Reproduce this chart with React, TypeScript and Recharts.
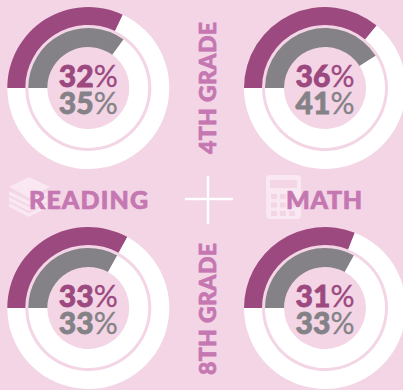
import React from "react";
import { PieChart, Pie, Cell } from "recharts";

const W = 403;
const H = 390;
const grades = ["4TH GRADE", "8TH GRADE"];
const subjects = ["READING", "MATH"];
const stateValues = [32, 36, 33, 31];
const nationValues = [35, 41, 33, 33];
const centersX = [88.3, 325, 88.3, 325];
const centersY = [88, 88, 308, 308];
const BG = "#f3d5e6";
const PURPLE = "#9c4980";
const GRAY = "#848286";
const LABEL = "#c577b1";
const FONT = "Lato, 'Open Sans', sans-serif";

const split = (v: number) => [
  { name: "share", value: v },
  { name: "rest", value: 100 - v },
];

const Donut = (i: number) => [
  <Pie key={`o${i}`} data={split(stateValues[i])} dataKey="value" cx={centersX[i]} cy={centersY[i]} innerRadius={63} outerRadius={81} startAngle={180} endAngle={-180} stroke="none" isAnimationActive={false}>
    <Cell fill={PURPLE} />
    <Cell fill="#ffffff" />
  </Pie>,
  <Pie key={`n${i}`} data={split(nationValues[i])} dataKey="value" cx={centersX[i]} cy={centersY[i]} innerRadius={41} outerRadius={60} startAngle={180} endAngle={-180} stroke="none" isAnimationActive={false}>
    <Cell fill={GRAY} />
    <Cell fill="#ffffff" />
  </Pie>,
];

const Pct = (v: number, color: string) => [
  <tspan key="d" fontWeight={900} stroke={color} strokeWidth={0.8}>{v}</tspan>,
  <tspan key="p" fontWeight={400} stroke={color} strokeWidth={0.3}>%</tspan>,
];

export default function App() {
  return (
    <div style={{ position: "absolute", left: 0, top: 0, width: W, height: H, background: BG }}>
      <PieChart width={W} height={H} margin={{ top: 0, right: 0, bottom: 0, left: 0 }}>
        {[0, 1, 2, 3].flatMap((i) => Donut(i))}
        {[0, 1, 2, 3].map((i) => (
          <g key={`t${i}`} fontFamily={FONT} fontSize={30} textAnchor="middle">
            <text x={centersX[i]} y={centersY[i] - 1} fill={PURPLE}>{Pct(stateValues[i], PURPLE)}</text>
            <text x={centersX[i]} y={centersY[i] + 26} fill={GRAY}>{Pct(nationValues[i], GRAY)}</text>
          </g>
        ))}
        <g opacity={0.75} fill="#fbeef6">
          <path d="M9 187 L29 177 L50 187 L29 198 Z" />
          <path d="M9 191 L29 201 L47 192 L47 196 L29 205 L9 195 Z" />
          <path d="M9 197 L29 207 L47 198 L47 202 L29 211 L9 201 Z" />
          <path d="M9 203 L29 213 L47 204 L47 208 L29 217 L9 207 Z" />
        </g>
        <rect x={266} y={175} width={35} height={44} rx={4} fill="#fbeef6" opacity={0.75} />
        <rect x={270} y={180} width={27} height={8} rx={1} fill={BG} />
        {[0, 1, 2].flatMap((r) => [0, 1, 2].map((c) => (
          <rect key={`k${r}${c}`} x={271 + c * 9} y={194 + r * 8.5} width={6} height={5} fill={BG} />
        )))}
        <line x1={208} y1={176} x2={208} y2={224} stroke="#fff" strokeWidth={2.5} />
        <line x1={185} y1={199} x2={233} y2={199} stroke="#fff" strokeWidth={2.5} />
        <g fontFamily={FONT} fontWeight={900} fill={LABEL} stroke={LABEL} strokeWidth={0.7}>
          <text x={29} y={209} fontSize={25} textLength={119} lengthAdjust="spacing">{subjects[0]}</text>
          <text x={286} y={209} fontSize={25} textLength={76} lengthAdjust="spacing">{subjects[1]}</text>
          <text transform="translate(216 154) rotate(-90)" fontSize={23} textLength={132} lengthAdjust="spacing">{grades[0]}</text>
          <text transform="translate(216 375) rotate(-90)" fontSize={23} textLength={132} lengthAdjust="spacing">{grades[1]}</text>
        </g>
      </PieChart>
    </div>
  );
}
